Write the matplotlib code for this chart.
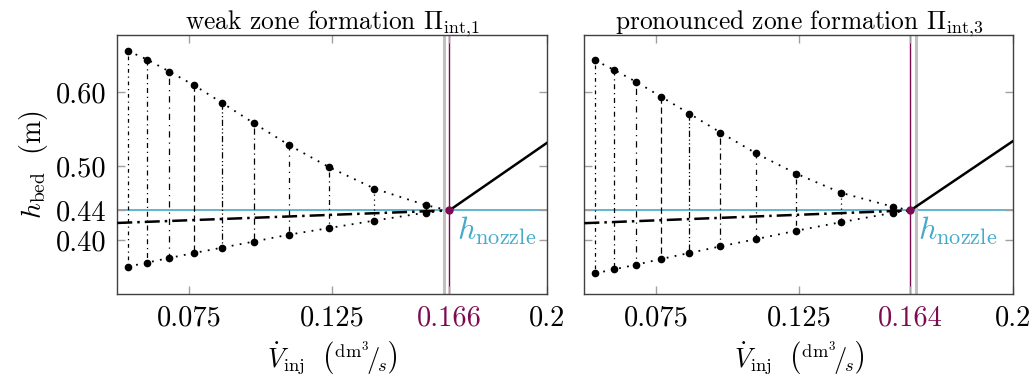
import matplotlib
matplotlib.use("Agg")
import matplotlib.pyplot as plt
import numpy as np

plt.rcParams['font.family'] = 'serif'
plt.rcParams['font.serif'] = ['cmr10']
plt.rcParams['mathtext.fontset'] = 'cm'
plt.rcParams['axes.formatter.use_mathtext'] = True

# injection rates of the sampled points (dm^3/s)
v_inj = [0.0538, 0.0605, 0.0682, 0.0768, 0.0867, 0.0976, 0.1101, 0.1241, 0.1398, 0.1579]

# left: weak zone formation, right: pronounced zone formation
titles = [r'weak zone formation $\Pi_{\mathrm{int{,}1}}$',
          r'pronounced zone formation $\Pi_{\mathrm{int{,}3}}$']
h_upper = [[0.6554, 0.6438, 0.6276, 0.6091, 0.5851, 0.5581, 0.5280, 0.4982, 0.4695, 0.4469],
           [0.6427, 0.6296, 0.6135, 0.5937, 0.5708, 0.5452, 0.5169, 0.4896, 0.4637, 0.4449]]
h_lower = [[0.3640, 0.3695, 0.3757, 0.3824, 0.3897, 0.3978, 0.4073, 0.4162, 0.4262, 0.4370],
           [0.3550, 0.3604, 0.3667, 0.3743, 0.3824, 0.3914, 0.4012, 0.4125, 0.4241, 0.4367]]
mean_start = [0.423, 0.4227]       # dash-dot line at v_inj = 0.05
v_cross = [0.166, 0.164]           # crossing with nozzle height
h_end = [0.531, 0.534]             # solid line at v_inj = 0.2
h_nozzle = 0.44

xticks = [0.075, 0.125]
yticks = [0.40, 0.44, 0.50, 0.60]
ytick_labels = ['0.40', '0.44', '0.50', '0.60']

cyan = '#62b6cf'
cyan_txt = '#45abcb'
purple = '#7d0b52'
vstyles = [(0, (1, 3, 3, 3)), (0, (4, 3, 1, 3)), (0, (1, 4, 5, 4)), (0, (5, 3)),
           (0, (5, 2, 1, 2, 1, 2)), (0, (1, 3, 5, 3)), (0, (4, 4, 1, 4)), (0, (1, 3, 4, 3)),
           (0, (1, 3)), (0, (1, 2))]

fig = plt.figure(figsize=(10.35, 3.8), dpi=100)
positions = [[0.1133, 0.2263, 0.4149, 0.6816], [0.5646, 0.2263, 0.4145, 0.6816]]

for i in range(2):
    ax = fig.add_axes(positions[i])
    other = v_cross[1 - i]

    for j, x in enumerate(v_inj):
        ax.plot([x, x], [h_upper[i][j], h_lower[i][j]], color='black', lw=0.9,
                linestyle=vstyles[j % len(vstyles)], zorder=2)

    ax.plot(v_inj + [v_cross[i]], h_upper[i] + [h_nozzle], color='black', lw=1.3,
            linestyle=(0, (1, 3.5)), zorder=3)
    ax.plot(v_inj + [v_cross[i]], h_lower[i] + [h_nozzle], color='black', lw=1.3,
            linestyle=(0, (1, 3.5)), zorder=3)
    ax.plot(v_inj, h_upper[i], 'o', color='black', ms=4.5, zorder=4)
    ax.plot(v_inj, h_lower[i], 'o', color='black', ms=4.5, zorder=4)

    ax.plot([0.05, v_cross[i]], [mean_start[i], h_nozzle], color='black', lw=1.8,
            linestyle=(0, (6, 2, 1, 2)), zorder=3)
    ax.plot([v_cross[i], 0.2], [h_nozzle, h_end[i]], color='black', lw=1.8, zorder=3)

    ax.axhline(h_nozzle, color=cyan, lw=1.4, zorder=1)
    ax.axvline(other, color='#c0c0c0', lw=2.2, zorder=1)
    ax.axvline(v_cross[i], color=purple, lw=1.0, zorder=1)
    ax.plot([v_cross[i]], [h_nozzle], 'o', color=purple, ms=5, zorder=5)

    ax.text(v_cross[i] + 0.0028, 0.40, r'$h_{\mathrm{nozzle}}$', color=cyan_txt,
            fontsize=23, va='baseline', ha='left')

    ax.set_xlim(0.05, 0.2)
    ax.set_ylim(0.327, 0.677)
    ax.set_xticks(xticks + [v_cross[i], 0.2])
    ax.set_xticklabels(['0.075', '0.125', '%.3f' % v_cross[i], '0.2'])
    ax.get_xticklabels()[2].set_color(purple)
    ax.set_yticks(yticks)
    if i == 0:
        ax.set_yticklabels(ytick_labels)
        ax.set_ylabel(r'$h_{\mathrm{bed}}\ \ (\mathrm{m})$', fontsize=20, labelpad=4)
    else:
        ax.set_yticklabels([])
    ax.tick_params(direction='in', length=6, width=1, color='#a0a0a0',
                   top=True, right=True, labelsize=20.5, pad=8)
    for s in ax.spines.values():
        s.set_color('#404040')
        s.set_linewidth(1.0)
    ax.set_xlabel(r'$\dot{V}_{\mathrm{inj}}\ \ \left({}^{\mathrm{dm}^3}\!/\!_{s}\right)$',
                  fontsize=19, labelpad=6)
    ax.set_title(titles[i], fontsize=18.3, pad=4)

fig.savefig('out.png', dpi=100)
